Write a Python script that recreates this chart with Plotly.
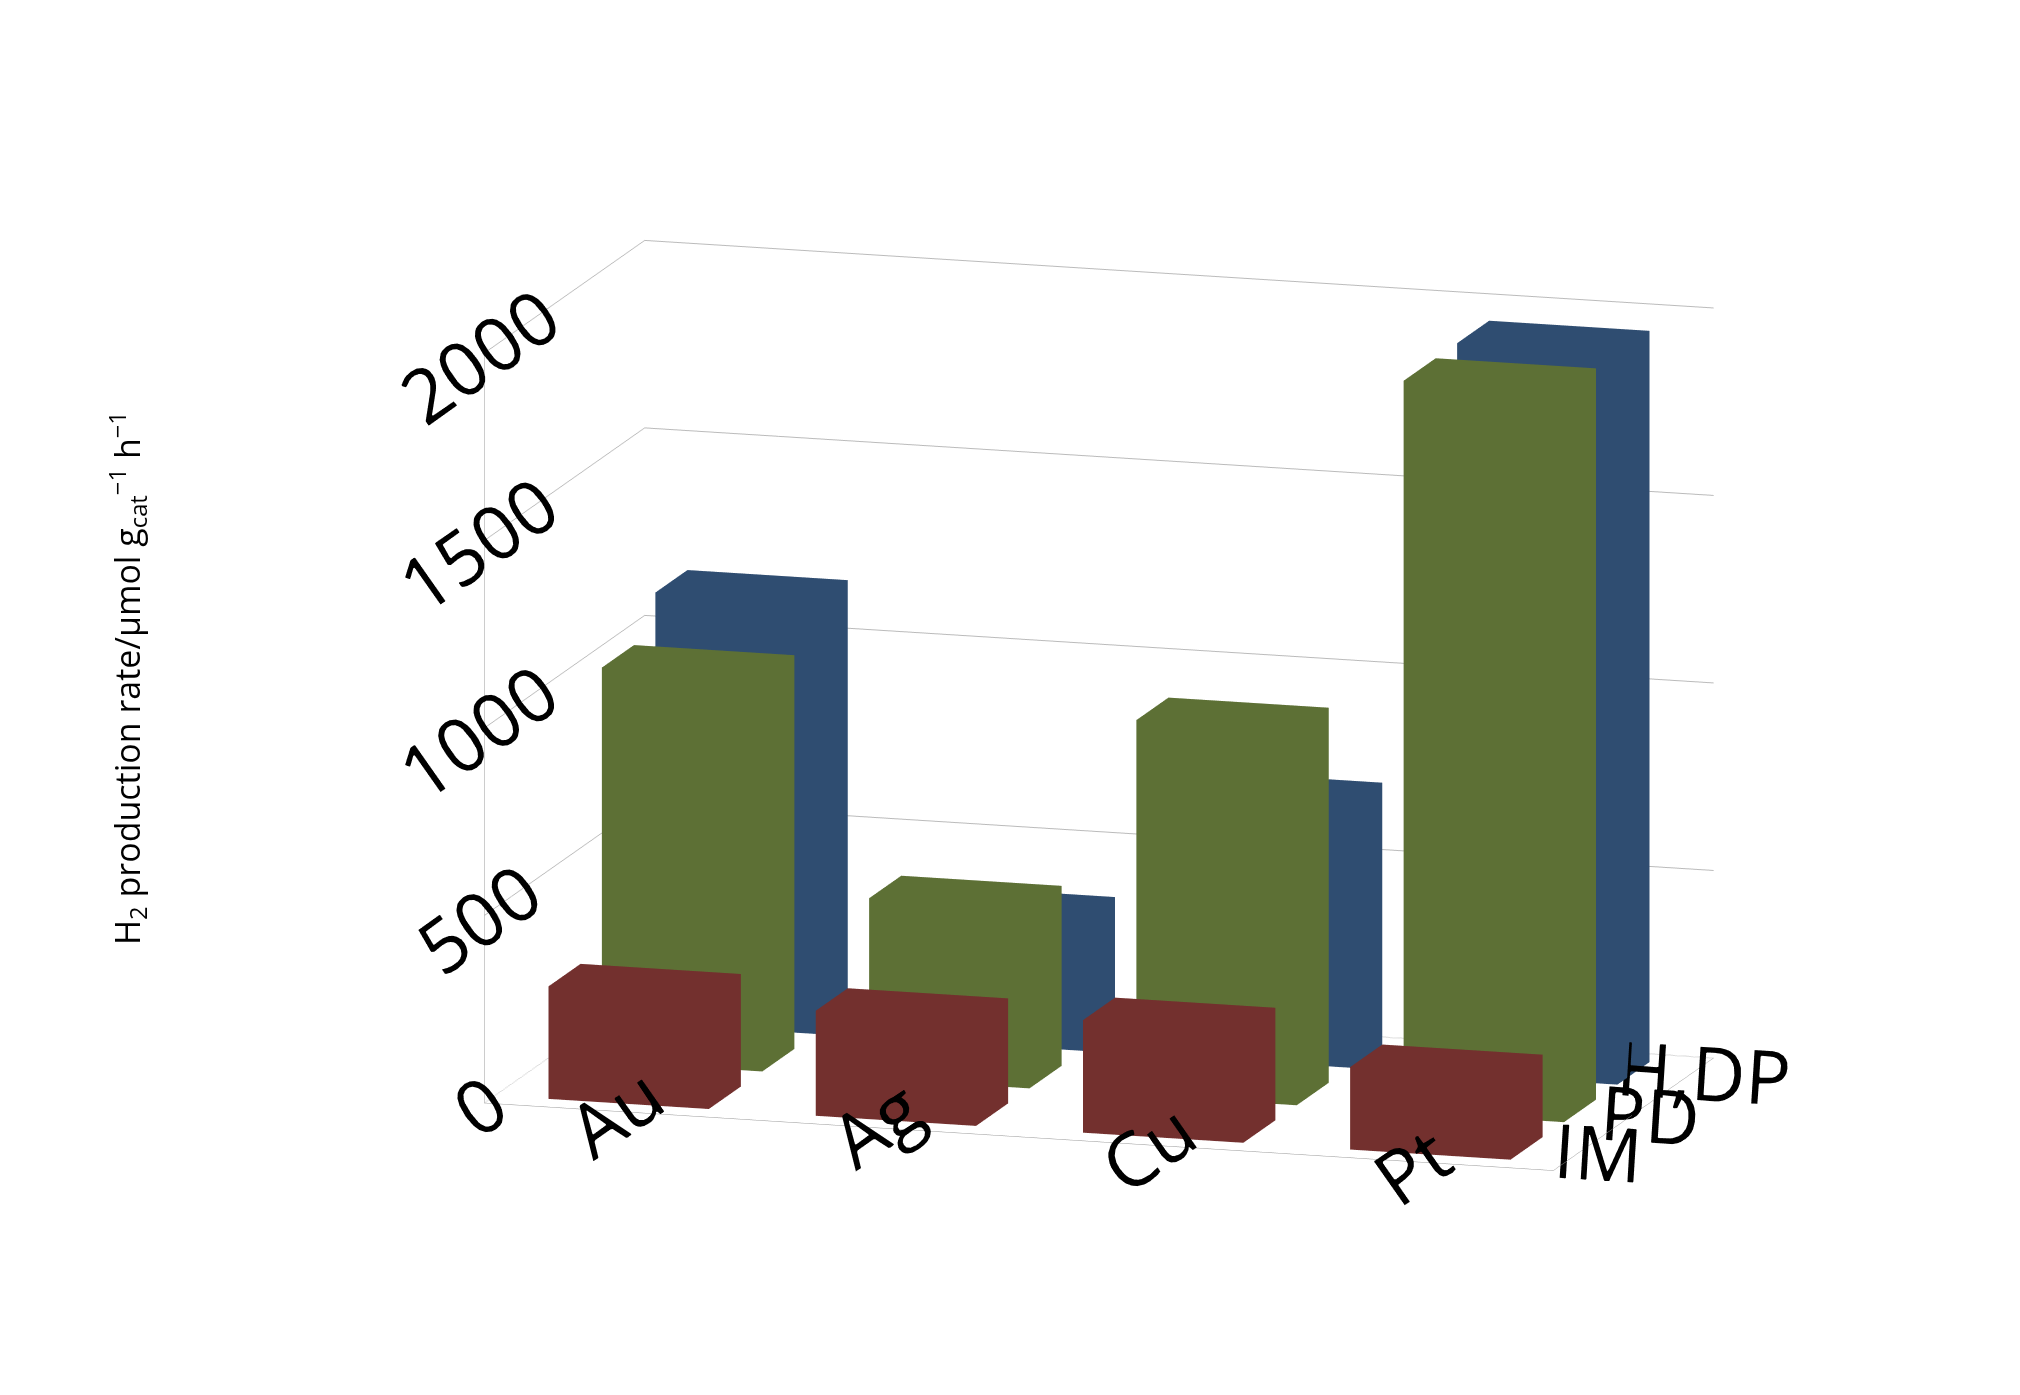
import plotly.graph_objects as go

metals = ["Au", "Ag", "Cu", "Pt"]
rows = ["IM", "PD", "H,DP"]
im_vals = [300, 280, 300, 220]
pd_vals = [1050, 480, 1000, 1950]
hdp_vals = [1150, 350, 700, 1950]
colors = ["#c0504d", "#9bbb59", "#4f81bd"]
series = [im_vals, pd_vals, hdp_vals]

fig = go.Figure()
w = 0.3
for ri, vals in enumerate(series):
    for mi, v in enumerate(vals):
        x0, x1 = mi - w, mi + w
        y0, y1 = ri - w, ri + w
        xs = [x0, x1, x1, x0, x0, x1, x1, x0]
        ys = [y0, y0, y1, y1, y0, y0, y1, y1]
        zs = [0, 0, 0, 0, v, v, v, v]
        fig.add_trace(go.Mesh3d(
            x=xs, y=ys, z=zs,
            i=[0, 0, 4, 4, 0, 0, 1, 1, 2, 2, 3, 3],
            j=[1, 2, 5, 6, 1, 5, 2, 6, 3, 7, 0, 4],
            k=[2, 3, 6, 7, 5, 4, 6, 5, 7, 6, 4, 7],
            color=colors[ri], flatshading=True,
            lighting=dict(ambient=0.6, diffuse=0.6, specular=0.05),
            lightposition=dict(x=-1000, y=-2000, z=3000),
            showscale=False, hoverinfo="skip"))

ax = dict(showbackground=False, gridcolor="#bbbbbb", linecolor="#999999",
          showline=True, tickfont=dict(size=30, family="Open Sans", color="black"), title="")
fig.update_layout(
    width=2020, height=1395, paper_bgcolor="white", showlegend=False,
    margin=dict(l=0, r=0, t=0, b=0),
    scene=dict(
        domain=dict(x=[0.08, 1.0], y=[0.0, 1.0]),
        xaxis=dict(ax, tickvals=[0, 1, 2, 3], ticktext=metals, range=[-0.5, 3.5], showgrid=False),
        yaxis=dict(ax, tickvals=[0, 1, 2], ticktext=rows, range=[-0.5, 2.5], showgrid=False),
        zaxis=dict(ax, range=[0, 2000], tickvals=[0, 500, 1000, 1500, 2000]),
        aspectmode="manual", aspectratio=dict(x=1.6, y=0.8, z=1.1),
        camera=dict(eye=dict(x=0.6, y=-2.0, z=0.45), projection=dict(type="orthographic")),
    ),
    annotations=[dict(text="H<sub>2</sub> production rate/μmol g<sub>cat</sub><sup>−1</sup> h<sup>−1</sup>",
                      x=0.045, y=0.52, xref="paper", yref="paper", textangle=-90, showarrow=False,
                      font=dict(size=34, family="Open Sans", color="black"))],
)
fig.write_html("out.html")
